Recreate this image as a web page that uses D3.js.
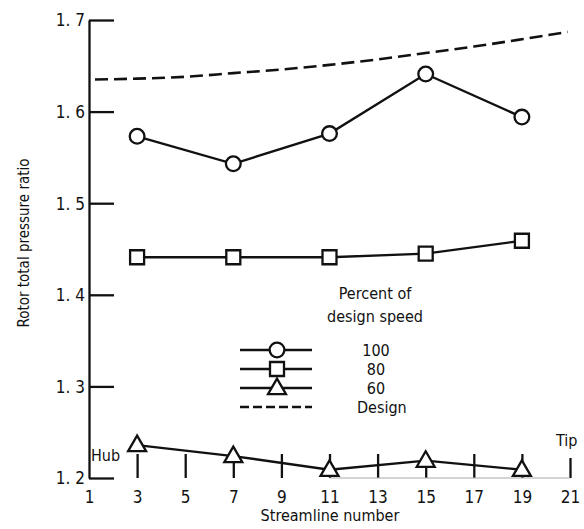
<!DOCTYPE html>
<html>
<head>
<meta charset="utf-8">
<script src="https://cdn.jsdelivr.net/npm/d3@7"></script>
<style>
  html, body { margin: 0; padding: 0; background: #fff; }
  svg text { font-family: "DejaVu Sans Condensed", "Liberation Sans Narrow", "DejaVu Sans", sans-serif; fill: #111; }
</style>
</head>
<body>
<svg id="chart" width="584" height="529"></svg>
<script>
// Streamline positions (hub = 1, tip = 21)
const streamlines = [3, 7, 11, 15, 19];
// Rotor total pressure ratio at each streamline, per percent of design speed
const speed100 = [1.573, 1.543, 1.576, 1.641, 1.594];
const speed80  = [1.441, 1.441, 1.441, 1.445, 1.459];
const speed60  = [1.236, 1.224, 1.209, 1.219, 1.209];
// Design-point curve
const designStreamlines = [1.25, 3, 5, 7, 9, 11, 13, 15, 17, 19, 20.9];
const designValues = [1.635, 1.636, 1.638, 1.642, 1.646, 1.651, 1.657, 1.664, 1.671, 1.679, 1.687];
// Axis ticks
const xTicks = [1, 3, 5, 7, 9, 11, 13, 15, 17, 19, 21];
const yTicks = [1.2, 1.3, 1.4, 1.5, 1.6, 1.7];
const yTickLabels = ["1. 2", "1. 3", "1. 4", "1. 5", "1. 6", "1. 7"];
// Legend
const legendTitle = ["Percent of", "design speed"];
const legendLabels = ["100", "80", "60", "Design"];

const svg = d3.select("#chart");
const x = d3.scaleLinear().domain([1, 21]).range([89, 570]);
const y = d3.scaleLinear().domain([1.2, 1.7]).range([478, 20]);
const ink = "#111";
const sw = 2.3;

// Y axis: vertical rule with short inward ticks
const yAxis = d3.axisLeft(y)
  .tickValues(yTicks)
  .tickSizeInner(-25)
  .tickSizeOuter(0)
  .tickPadding(5)
  .tickFormat((d, i) => yTickLabels[i]);
const gy = svg.append("g").attr("transform", `translate(${x(1)},0)`).call(yAxis);
gy.select(".domain").attr("stroke", ink).attr("stroke-width", sw);
gy.selectAll(".tick line").attr("stroke", ink).attr("stroke-width", sw);
gy.selectAll(".tick text").style("font-size", "17px").attr("x", -4).attr("dy", "0.35em");

// X axis: upward tick marks, labels below
const xAxis = d3.axisBottom(x)
  .tickValues(xTicks)
  .tickSizeInner(-24)
  .tickSizeOuter(0)
  .tickPadding(13)
  .tickFormat(d3.format("d"));
const gx = svg.append("g").attr("transform", `translate(0,${y(1.2)})`).call(xAxis);
gx.select(".domain").remove();
gx.selectAll(".tick line")
  .attr("stroke", ink).attr("stroke-width", sw)
  .attr("y1", 0)
  .attr("y2", d => d === 1 ? 0 : (d === 21 ? -20 : -24));
gx.selectAll(".tick text").style("font-size", "17px").attr("dy", "0.71em");

// Faint baseline toward the tip
svg.append("line")
  .attr("x1", x(11)).attr("x2", x(21))
  .attr("y1", y(1.2)).attr("y2", y(1.2))
  .attr("stroke", "#aaa").attr("stroke-width", 1.2);

// Axis titles and end labels
svg.append("text")
  .attr("transform", `translate(29,243) rotate(-90)`)
  .attr("text-anchor", "middle")
  .style("font-size", "15px")
  .text("Rotor total pressure ratio");
svg.append("text")
  .attr("x", 330).attr("y", 521)
  .attr("text-anchor", "middle")
  .style("font-size", "16px")
  .text("Streamline number");
svg.append("text").attr("x", 91).attr("y", 461).style("font-size", "16px").text("Hub");
svg.append("text").attr("x", 556).attr("y", 446).style("font-size", "16px").text("Tip");

// Design curve
const designLine = d3.line().x(d => x(d[0])).y(d => y(d[1])).curve(d3.curveMonotoneX);
svg.append("path")
  .datum(d3.zip(designStreamlines, designValues))
  .attr("d", designLine)
  .attr("fill", "none").attr("stroke", ink).attr("stroke-width", 2.6)
  .attr("stroke-dasharray", "13,6");

// Measured series
const line = d3.line().x(d => x(d[0])).y(d => y(d[1]));
const symbols = {
  circle: d3.symbol().type(d3.symbolCircle).size(170),
  square: d3.symbol().type(d3.symbolSquare).size(196),
  triangle: d3.symbol().type(d3.symbolTriangle).size(140)
};
const series = [
  { values: speed100, shape: "circle", dy: 0 },
  { values: speed80, shape: "square", dy: 0 },
  { values: speed60, shape: "triangle", dy: 1 }
];
series.forEach(s => {
  const pts = d3.zip(streamlines, s.values);
  svg.append("path").datum(pts).attr("d", line)
    .attr("fill", "none").attr("stroke", ink).attr("stroke-width", sw);
  svg.selectAll(null).data(pts).join("path")
    .attr("d", symbols[s.shape])
    .attr("transform", d => `translate(${x(d[0])},${y(d[1]) + s.dy})`)
    .attr("fill", "#fff").attr("stroke", ink).attr("stroke-width", sw);
});

// Legend
const legend = svg.append("g");
legend.selectAll("text.title").data(legendTitle).join("text")
  .attr("class", "title")
  .attr("x", 375).attr("y", (d, i) => 299 + i * 23)
  .attr("text-anchor", "middle").style("font-size", "16px")
  .text(d => d);
const rowY = [350, 369, 388, 407];
const rowShapes = ["circle", "square", "triangle", null];
legendLabels.forEach((lab, i) => {
  const ly = rowY[i];
  legend.append("line")
    .attr("x1", 240).attr("x2", 312).attr("y1", ly).attr("y2", ly)
    .attr("stroke", ink).attr("stroke-width", sw)
    .attr("stroke-dasharray", rowShapes[i] ? null : "9,4");
  if (rowShapes[i]) {
    legend.append("path").attr("d", symbols[rowShapes[i]])
      .attr("transform", `translate(277,${ly + (rowShapes[i] === "triangle" ? 1 : 0)})`)
      .attr("fill", "#fff").attr("stroke", ink).attr("stroke-width", sw);
  }
  legend.append("text")
    .attr("x", i === 3 ? 357 : 376).attr("y", ly).attr("dy", "0.35em")
    .attr("text-anchor", i === 3 ? "start" : "middle")
    .style("font-size", "16px")
    .text(lab);
});
</script>
</body>
</html>
